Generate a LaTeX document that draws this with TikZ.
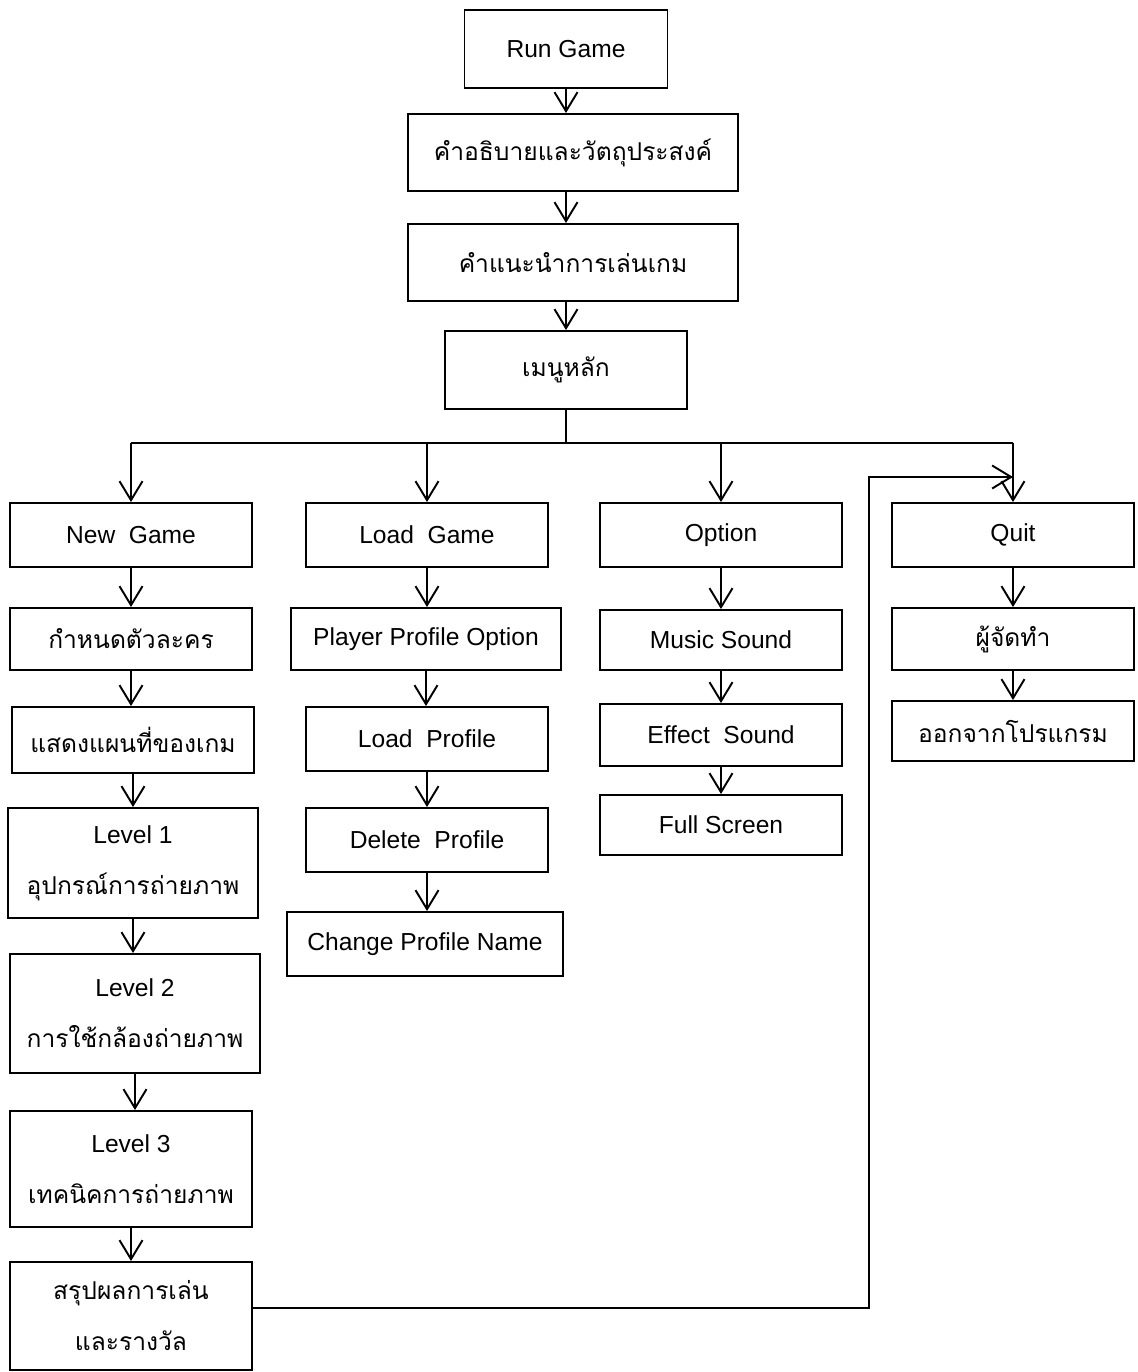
\documentclass[tikz,border=0pt]{standalone}
\usepackage{fontspec}
\setmainfont{Liberation Sans}
\newfontfamily\thaifont[Script=Thai]{Loma}
\usetikzlibrary{arrows.meta}
\newcommand{\thtxt}[1]{{\thaifont #1}}

\begin{document}
\begin{tikzpicture}[x=0.02cm,y=-0.02cm,
  box/.style={draw, line width=1.1pt, inner sep=0pt, align=center, font=\fontsize{14}{17}\selectfont},
  twoline/.style={font=\fontsize{14}{29}\selectfont},
  sz/.style 2 args={minimum width=#1*0.02cm, minimum height=#2*0.02cm},
  ln/.style={line width=1.1pt},
  arr/.style={line width=1.1pt, -{Straight Barb[length=0.38cm,width=0.46cm]}}]

\useasboundingbox (0,0) rectangle (1137,1372);

% main chain
\node[box, sz={203}{78}] (run) at (566,49) {Run Game};
\node[box, sz={330}{77}] (desc) at (573,152.5) {\thtxt{คำอธิบายและวัตถุประสงค์}};
\node[box, sz={330}{77}] (guide) at (573,262.5) {\thtxt{คำแนะนำการเล่นเกม}};
\node[box, sz={242}{78}] (menu) at (566,370) {\thtxt{เมนูหลัก}};

% menu items
\node[box, sz={242}{64}] (ng) at (131,535) {New~~Game};
\node[box, sz={242}{64}] (lg) at (427,535) {Load~~Game};
\node[box, sz={242}{64}] (opt) at (721,535) {Option};
\node[box, sz={242}{64}] (quit) at (1013,535) {Quit};

% new game
\node[box, sz={242}{62}] (char) at (131,639) {\thtxt{กำหนดตัวละคร}};
\node[box, sz={242}{66}] (map) at (133,740) {\thtxt{แสดงแผนที่ของเกม}};
\node[box, twoline, sz={250}{110}] (lvA) at (133,863) {Level 1\\\thtxt{อุปกรณ์การถ่ายภาพ}};
\node[box, twoline, sz={250}{119}] (lvB) at (135,1013.5) {Level 2\\\thtxt{การใช้กล้องถ่ายภาพ}};
\node[box, twoline, sz={242}{116}] (lvC) at (131,1169) {Level 3\\\thtxt{เทคนิคการถ่ายภาพ}};
\node[box, twoline, sz={242}{108}] (sum) at (131,1316) {\thtxt{สรุปผลการเล่น}\\\thtxt{และรางวัล}};

% load game
\node[box, sz={270}{62}] (ppo) at (426,639) {Player Profile Option};
\node[box, sz={242}{64}] (lp) at (427,739) {Load~~Profile};
\node[box, sz={242}{64}] (del) at (427,840) {Delete~~Profile};
\node[box, sz={276}{64}] (chg) at (425,944) {Change Profile Name};

% option
\node[box, sz={242}{60}] (music) at (721,640) {Music Sound};
\node[box, sz={242}{62}] (eff) at (721,735) {Effect~~Sound};
\node[box, sz={242}{60}] (full) at (721,825) {Full Screen};

% quit
\node[box, sz={242}{62}] (maker) at (1013,639) {\thtxt{ผู้จัดทำ}};
\node[box, sz={242}{60}] (quitp) at (1013,731) {\thtxt{ออกจากโปรแกรม}};

\foreach \a/\b in {run/desc,desc/guide,guide/menu}
  \draw[arr] (\a.south -| run) -- (\b.north -| run);

\coordinate (bus) at (566,443);
\draw[ln] (menu.south) -- (bus);
\draw[ln] (bus -| ng.north) -- (bus -| quit.north);
\foreach \n in {ng,lg,opt,quit}
  \draw[arr] (bus -| \n.north) -- (\n.north);

\foreach \a/\b in {ng/char,char/map,map/lvA,lvA/lvB,lvB/lvC,lvC/sum,
                   lg/ppo,ppo/lp,lp/del,del/chg,
                   opt/music,music/eff,eff/full,
                   quit/maker,maker/quitp}
  \draw[arr] (\a.south) -- (\a.south |- \b.north);

% back to quit
\coordinate (fb) at (869,477);
\draw[arr] ([yshift=0.16cm]sum.east) -- ([yshift=0.16cm]sum.east -| fb) -- (fb) -- (fb -| quit.north);

\end{tikzpicture}
\end{document}
